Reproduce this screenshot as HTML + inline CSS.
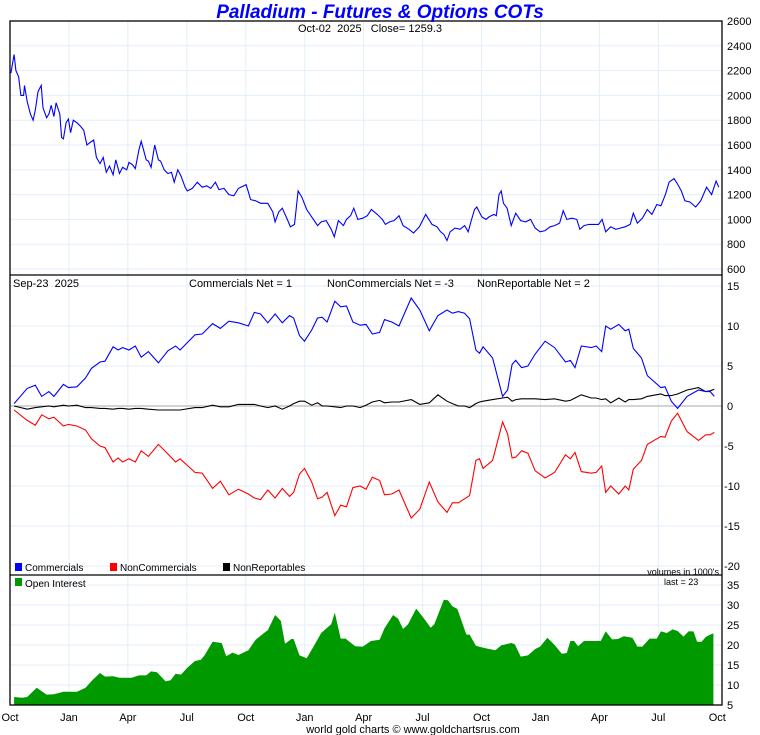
<!DOCTYPE html>
<html><head><meta charset="utf-8"><style>
body{margin:0;background:#fff}
svg{display:block;font-family:"Liberation Sans",sans-serif}
.pre{white-space:pre}
</style></head><body>
<svg id="c" width="760" height="735" viewBox="0 0 760 735">
<g id="grid"></g>
<g id="marks"></g>
<g id="axes"></g>
</svg>
<script>
// ---- data (weeks since Oct 2022) ----
const priceWeeks=[0.2,0.9,1.3,1.9,2.4,3.0,3.2,3.8,4.5,5.1,5.6,6.2,6.9,7.3,8.1,8.6,9.1,9.7,10.2,11.0,11.4,11.8,12.4,12.9,13.4,14.0,14.8,15.6,16.3,17.0,17.7,18.5,19.1,19.9,20.6,21.3,22.0,22.8,23.4,24.2,24.9,25.8,26.3,27.1,27.7,28.5,29.0,29.6,30.1,30.6,31.2,32.0,32.8,33.3,34.1,34.9,35.7,36.3,37.1,37.8,38.7,39.2,40.3,41.4,42.5,43.5,44.4,45.4,46.2,47.3,48.4,49.5,50.5,52.2,52.7,53.2,54.3,55.4,57.0,58.1,58.6,59.4,60.2,61.3,62.0,62.9,63.7,64.5,65.6,66.7,68.0,68.8,69.9,71.0,71.7,72.6,73.7,74.4,75.3,76.0,76.9,78.0,79.0,79.9,81.2,82.3,83.0,83.9,84.9,86.0,86.9,88.2,89.2,90.5,91.9,93.3,94.4,95.2,95.9,96.6,97.3,98.4,99.5,100.5,101.3,101.9,102.7,103.2,104.3,105.2,105.9,107.0,107.5,108.1,108.6,109.1,109.9,110.8,111.8,112.9,114.0,115.1,116.1,117.2,118.3,119.4,120.4,121.5,122.3,123.1,124.2,125.3,126.0,126.9,128.0,129.0,130.1,130.9,131.7,132.8,133.9,134.9,136.0,137.1,137.8,138.7,139.8,140.9,141.9,143.0,143.9,144.9,145.7,146.8,147.5,148.4,149.2,150.3,151.6,152.7,154.0,155.1,156.1,156.7];
const priceValues=[2180,2330,2200,2150,2000,2000,2080,1950,1850,1800,1880,2030,2080,1900,1820,1850,1920,1830,1940,1850,1660,1650,1780,1810,1700,1800,1780,1750,1720,1600,1620,1640,1500,1450,1500,1380,1430,1360,1480,1370,1420,1400,1460,1440,1410,1560,1630,1550,1480,1470,1420,1600,1480,1470,1400,1370,1380,1300,1400,1350,1260,1230,1250,1300,1260,1270,1250,1300,1240,1250,1200,1190,1250,1280,1220,1160,1150,1130,1130,1060,980,1060,1090,1000,940,960,1230,1180,1080,1020,950,980,990,920,860,990,950,1000,1030,1090,1000,1010,1030,1080,1040,1000,960,980,990,1030,950,920,890,940,1040,960,940,900,880,830,900,930,920,950,900,980,1080,1100,1020,1000,1020,1040,1030,1200,1230,1130,1090,950,1050,990,980,1000,930,900,910,940,950,970,1070,1000,1010,1000,920,950,960,960,960,1000,900,940,920,930,940,960,1050,970,1010,1080,1040,1120,1110,1200,1300,1330,1290,1230,1150,1140,1100,1150,1260,1200,1310,1260];
const cotWeeks=[0.9,3.8,5.6,7.0,8.6,9.7,11.8,12.9,14.8,16.7,18.0,19.9,21.0,22.8,23.9,24.9,26.3,27.7,29.0,30.6,32.8,34.9,36.6,37.6,40.9,42.5,44.8,46.5,48.4,50.5,52.7,54.0,55.4,57.0,58.6,60.2,61.8,62.7,64.0,65.1,66.7,68.0,69.0,70.1,71.8,73.1,74.4,75.8,77.4,78.7,80.1,81.7,82.8,84.4,86.0,88.7,90.6,92.7,94.6,96.6,97.8,99.1,100.5,101.6,103.0,103.8,104.6,106.7,108.9,110.0,111.0,111.8,113.1,114.5,116.1,118.3,120.4,122.8,123.9,124.9,126.3,128.5,129.6,130.8,131.7,132.8,134.6,136.0,136.8,137.8,139.6,140.9,143.9,144.8,146.2,147.6,149.7,152.2,153.8,154.8,155.7];
const commercials=[0.3,2.2,2.6,1.2,1.8,1.2,2.7,2.3,2.4,3.5,4.7,5.5,5.6,7.4,7.0,7.3,7.0,7.5,6.1,6.8,5.4,6.9,7.5,7.0,8.9,9.0,10.3,9.7,10.6,10.4,10.0,11.7,11.5,10.4,11.5,10.4,11.3,11.0,8.8,8.1,9.5,11.0,11.1,10.5,13.1,12.4,12.5,10.5,10.1,10.2,9.0,9.2,10.8,10.5,10.0,13.5,12.0,9.4,11.3,12.0,11.6,11.8,11.6,10.9,7.0,6.6,7.4,6.0,1.2,2.0,5.2,5.7,4.8,5.0,6.5,8.1,7.3,5.5,5.7,4.8,7.5,7.3,7.5,6.8,10.0,9.6,10.2,9.4,9.6,7.2,6.0,3.8,2.3,2.4,0.6,-0.3,1.2,2.0,1.8,1.8,1.2];
const nonCommercials=[-0.5,-1.8,-2.4,-1.1,-1.6,-1.4,-2.5,-2.3,-2.5,-3.0,-4.1,-5.0,-5.2,-7.0,-6.5,-7.0,-6.6,-7.0,-5.6,-6.3,-4.8,-6.0,-7.0,-6.6,-8.3,-8.4,-10.3,-9.4,-11.1,-10.4,-11.0,-11.5,-11.7,-10.5,-11.5,-10.3,-11.3,-10.8,-8.5,-7.8,-9.5,-11.6,-11.4,-10.8,-13.7,-12.4,-12.6,-10.2,-10.0,-10.4,-8.9,-9.3,-11.1,-11.0,-10.5,-14.0,-12.9,-9.5,-12.0,-13.3,-12.1,-12.1,-11.6,-11.2,-6.8,-6.6,-7.8,-6.8,-2.0,-3.5,-6.5,-6.4,-5.6,-5.9,-8.1,-9.0,-8.3,-6.1,-6.6,-5.8,-8.2,-8.4,-8.3,-7.5,-10.8,-10.0,-11.0,-10.0,-10.5,-7.9,-6.8,-4.8,-3.8,-3.9,-1.9,-0.9,-3.2,-4.3,-3.6,-3.6,-3.3];
const nonReportables=[0,-0.4,-0.2,-0.1,0,-0.1,0.1,0,0.1,-0.2,-0.2,-0.3,-0.3,-0.4,-0.3,-0.3,-0.4,-0.3,-0.3,-0.4,-0.5,-0.5,-0.5,-0.5,-0.2,-0.2,0.1,-0.1,-0.1,0.2,0.2,0.2,0,-0.2,0,-0.4,0,0.3,0.6,0.6,0.1,0.4,0,0,-0.1,-0.2,0,0,-0.2,0.1,0.5,0.7,0.4,0.5,0.5,0.8,0.2,0.4,1.4,0.6,0.3,0,0,-0.2,0.3,0.5,0.6,0.8,1.0,1.1,0.6,0.8,0.9,0.9,0.9,0.8,0.9,0.6,0.7,1.0,1.4,1.0,1.0,0.8,0.9,0.4,1.0,0.5,0.8,0.8,0.9,1.2,1.5,1.3,1.3,1.5,2.0,2.3,1.8,1.9,2.1];
const oiWeeks=[0.9,2.7,3.8,5.9,8.1,9.7,11.8,14.8,16.7,18.3,19.9,21.0,22.8,24.2,26.9,28.5,30.1,31.2,32.5,34.4,35.5,36.6,37.8,39.2,40.9,42.2,43.0,44.8,46.8,47.8,49.2,50.5,52.7,54.3,56.5,57.0,58.6,59.9,60.8,62.2,62.7,64.0,65.6,67.2,68.8,71.0,71.8,73.1,74.2,76.3,78.0,79.8,81.7,82.8,84.7,85.8,86.9,88.0,89.8,91.4,93.0,93.8,95.9,96.8,97.8,98.9,100.9,101.6,103.0,104.3,105.9,107.3,108.6,110.8,111.6,112.9,114.5,116.1,117.2,118.8,120.4,122.0,123.1,123.9,124.7,125.6,126.9,129.0,130.6,131.7,133.1,134.4,135.7,137.6,138.7,139.8,141.4,143.0,143.9,145.2,146.5,147.6,148.9,150.0,151.1,151.9,152.9,153.8,154.8,155.5];
const openInterest=[7.0,6.8,7.0,9.3,7.6,7.7,8.3,8.3,9.3,11.3,13.0,12.1,12.2,11.8,11.8,12.4,12.4,13.4,13.2,10.9,11.2,12.8,12.6,14.3,16.0,16.3,17.4,20.8,20.5,17.2,18.1,17.5,18.7,21.3,23.3,23.7,27.5,26.0,20.3,21.5,21.5,17.4,16.7,19.8,23.0,25.2,28.1,21.6,21.6,19.7,19.6,21.0,21.3,24.2,27.5,26.6,24.0,25.2,29.1,26.8,24.3,25.2,31.3,31.2,29.7,29.0,22.6,22.6,19.8,19.4,19.0,18.7,19.9,20.5,20.2,17.1,17.4,19.0,19.6,21.8,20.0,17.8,18.0,21.0,21.0,19.7,21.0,21.0,21.0,23.4,21.4,21.5,22.2,21.8,19.6,19.6,21.6,21.6,23.4,23.0,23.9,23.5,22.1,23.4,23.4,20.8,20.8,22.0,22.6,22.9];
const xTickLabels=["Oct","Jan","Apr","Jul","Oct","Jan","Apr","Jul","Oct","Jan","Apr","Jul","Oct"];
const priceTicks=[600,800,1000,1200,1400,1600,1800,2000,2200,2400,2600];
const cotTicks=[-20,-15,-10,-5,0,5,10,15];
const oiTicks=[5,10,15,20,25,30,35];

// ---- scales ----
const L=10,R=722,W0=0,W1=156.3;
const x=w=>L+(w-W0)/(W1-W0)*(717-L);
const yP=v=>269+(v-600)/(2600-600)*(21-269);
const yC=v=>406-v*(406-286)/15;
const yO=v=>705-(v-5)/30*(705-585);
const NS="http://www.w3.org/2000/svg";
function mk(tag,attrs,parent,name,inter){const e=document.createElementNS(NS,tag);for(const k in attrs)e.setAttribute(k,attrs[k]);


parent.appendChild(e);return e;}
function txt(s,attrs,parent,name){const e=mk('text',attrs,parent,name,false);e.textContent=s;return e;}
const G=document.getElementById('grid'),M=document.getElementById('marks'),A=document.getElementById('axes');

xTickLabels.forEach((lab,i)=>{const xx=x(i*13.03);
 if(i>0&&i<12) mk('line',{x1:xx,x2:xx,y1:21,y2:705,stroke:'#e3eefa','stroke-width':1},G,'x-gridline',false);
 txt(lab,{x:xx,y:721,'font-size':11,'text-anchor':'middle',fill:'#000'},A,'x-tick-label');
});
priceTicks.forEach(t=>{const yy=yP(t);mk('line',{x1:L,x2:R,y1:yy,y2:yy,stroke:'#e3eefa'},G,'price-gridline',false);
 txt(String(t),{x:727,y:yy+4,'font-size':11},A,'price-tick-label');});
cotTicks.forEach(t=>{const yy=yC(t);if(t!==0)mk('line',{x1:L,x2:R,y1:yy,y2:yy,stroke:'#e3eefa'},G,'cot-gridline',false);
 txt(String(t),{x:t<0?724:727,y:yy+4,'font-size':11},A,'cot-tick-label');});
oiTicks.forEach(t=>{const yy=yO(t);mk('line',{x1:L,x2:R,y1:yy,y2:yy,stroke:'#e3eefa'},G,'oi-gridline',false);
 txt(String(t),{x:727,y:yy+4,'font-size':11},A,'oi-tick-label');});
mk('line',{x1:L,x2:R,y1:yC(0),y2:yC(0),stroke:'#bbb','stroke-width':1.2},G,'zero-line',false);

function line(ws,vs,ys,color,name){const d=ws.map((w,i)=>(i?'L':'M')+x(w).toFixed(1)+','+ys(vs[i]).toFixed(1)).join('');
 mk('path',{d:d,fill:'none',stroke:color,'stroke-width':1.1},M,name,false);}
line(priceWeeks,priceValues,yP,'#0000ff','price-line');
line(cotWeeks,nonReportables,yC,'#000','nonreportables-line');
line(cotWeeks,nonCommercials,yC,'#ff0000','noncommercials-line');
line(cotWeeks,commercials,yC,'#0000ff','commercials-line');
{let d='M'+x(oiWeeks[0]).toFixed(1)+',705';oiWeeks.forEach((w,i)=>d+='L'+x(w).toFixed(1)+','+yO(openInterest[i]).toFixed(1));
 d+='L'+x(oiWeeks[oiWeeks.length-1]).toFixed(1)+',705Z';mk('path',{d:d,fill:'#009900',stroke:'none'},M,'open-interest-area',false);}

mk('rect',{x:L,y:21,width:R-L,height:684,fill:'none',stroke:'#000','stroke-width':1.3},A,'plot-frame',false);
mk('line',{x1:L,x2:R,y1:275,y2:275,stroke:'#000','stroke-width':1.3},A,'panel-divider-1',false);
mk('line',{x1:L,x2:R,y1:575,y2:575,stroke:'#000','stroke-width':1.3},A,'panel-divider-2',false);

txt('Palladium - Futures & Options COTs',{x:380,y:18,'font-size':19,'font-weight':'bold','font-style':'italic','text-anchor':'middle',fill:'#0000ff'},A,'chart-title');
txt('Oct-02  2025   Close= 1259.3',{x:370,y:32,'font-size':11,'text-anchor':'middle','class':'pre'},A,'price-subtitle');
txt('Sep-23  2025',{x:13,y:287,'font-size':11,'class':'pre'},A,'cot-date');
txt('Commercials Net = 1',{x:189,y:287,'font-size':11},A,'commercials-net');
txt('NonCommercials Net = -3',{x:327,y:287,'font-size':11},A,'noncommercials-net');
txt('NonReportable Net = 2',{x:477,y:287,'font-size':11},A,'nonreportable-net');
const leg=[['Commercials','#0000ff',15],['NonCommercials','#ff0000',110],['NonReportables','#000',223]];
leg.forEach(l=>{mk('rect',{x:l[2],y:563,width:7,height:8,fill:l[1]},A,'legend-swatch',false);
 txt(l[0],{x:l[2]+10,y:571,'font-size':10},A,'legend-entry');});
txt("volumes in 1000's",{x:719,y:575,'font-size':9,'text-anchor':'end'},A,'volumes-note');
mk('rect',{x:15,y:578,width:7,height:8,fill:'#009900'},A,'legend-swatch-oi',false);
txt('Open Interest',{x:25,y:587,'font-size':10},A,'legend-open-interest');
txt('last = 23',{x:664,y:585,'font-size':9},A,'last-oi-value');
txt('world gold charts © www.goldchartsrus.com',{x:413,y:733,'font-size':11,'text-anchor':'middle'},A,'footer-credit');
</script>
</body></html>
